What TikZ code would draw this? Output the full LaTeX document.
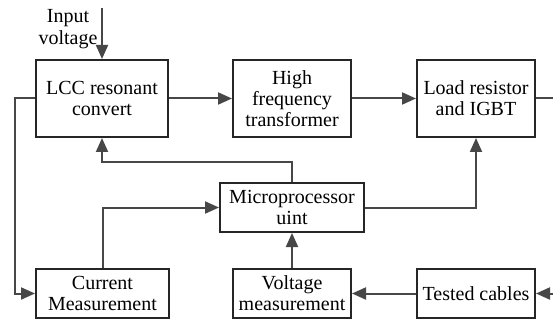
\documentclass[tikz,border=0pt]{standalone}
\usepackage{fontspec}
\setmainfont{Liberation Serif}
\usetikzlibrary{arrows.meta}

\begin{document}
\begin{tikzpicture}[
  x=1pt, y=-1pt,
  block/.style={draw=black!85, line width=2pt, align=center, inner sep=0pt,
    font=\fontsize{20}{21}\selectfont},
  label/.style={align=center, inner sep=0pt, font=\fontsize{20}{22}\selectfont},
  link/.style={draw=black!72, line width=2pt, -{Triangle[length=14pt,width=12pt]}},
  wire/.style={draw=black!72, line width=2pt}
]
  \useasboundingbox (0,0) rectangle (553,320);

  % Top row
  \node[block, minimum width=132pt, minimum height=77pt] (lcc) at (102,98.5) {LCC resonant\\convert};
  \node[block, minimum width=118pt, minimum height=77pt] (hft) at (292,98.5) {High\\frequency\\transformer};
  \node[block, minimum width=118pt, minimum height=77pt] (load) at (476,98.5) {Load resistor\\and IGBT};

  % Middle
  \node[block, minimum width=144pt, minimum height=49pt] (mcu) at (292,207.5) {Microprocessor\\uint};

  % Bottom row
  \node[block, minimum width=133pt, minimum height=49pt] (cur) at (102.5,293.5) {Current\\Measurement};
  \node[block, minimum width=118pt, minimum height=49pt] (vol) at (292,293.5) {Voltage\\measurement};
  \node[block, minimum width=118pt, minimum height=49pt] (tst) at (476,293.5) {Tested cables};

  % Input label and free ends
  \node[label] (inlbl) at (68,29) {Input\\voltage};
  \coordinate (vin) at (102,8);
  \coordinate (vout) at (553,98.5);
  \coordinate (cin) at (553,293.5);
  \coordinate (left) at (15,0);

  % Power path
  \draw[link] (vin) -- (lcc.north);
  \draw[link] (lcc) -- (hft);
  \draw[link] (hft) -- (load);
  \draw[wire] (load.east) -- (vout);

  % Measurement and control
  \draw[link] (lcc.west) -- (lcc.west -| left) |- (cur.west);
  \draw[link] (cur.north) |- (mcu.west);
  \draw[link] (mcu.north) -- ++(0,-20) -| (lcc.south);
  \draw[link] (mcu.east) -| (load.south);
  \draw[link] (vol) -- (mcu);
  \draw[link] (tst) -- (vol);
  \draw[link] (cin) -- (tst.east);
\end{tikzpicture}
\end{document}
